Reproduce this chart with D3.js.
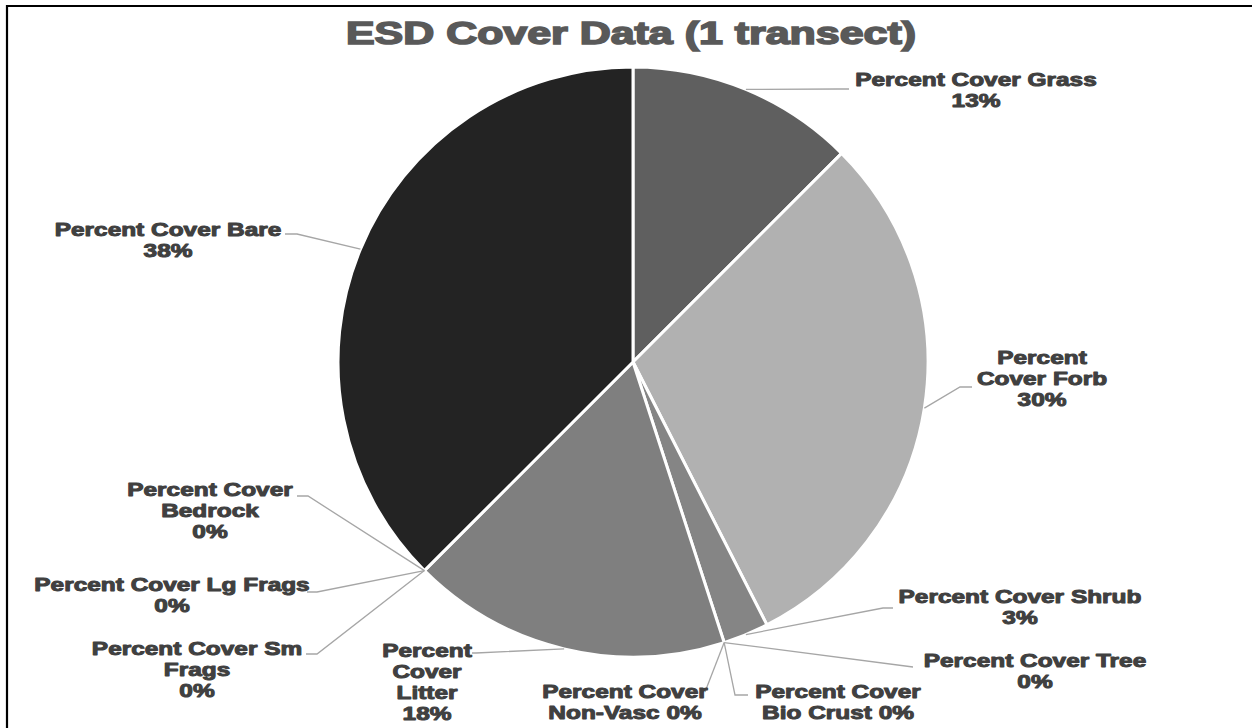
<!DOCTYPE html>
<html>
<head>
<meta charset="utf-8">
<script src="https://cdn.jsdelivr.net/npm/d3@7"></script>
<style>
  html, body { margin: 0; padding: 0; background: #fff; }
  svg { display: block; }
</style>
</head>
<body>
<svg id="chart" width="1252" height="728"></svg>
<script>
// ---- data ----
const categories = [
  "Percent Cover Grass", "Percent Cover Forb", "Percent Cover Shrub",
  "Percent Cover Tree", "Percent Cover Bio Crust", "Percent Cover Non-Vasc",
  "Percent Cover Litter", "Percent Cover Sm Frags", "Percent Cover Lg Frags",
  "Percent Cover Bedrock", "Percent Cover Bare"
];
const values = [12.5, 30, 2.5, 0, 0, 0, 17.5, 0, 0, 0, 37.5];
const percentLabels = ["13%", "30%", "3%", "0%", "0%", "0%", "18%", "0%", "0%", "0%", "38%"];
const titleText = "ESD Cover Data (1 transect)";

// ---- styling / layout (not data) ----
const sliceColors = ["#5f5f5f", "#b1b1b1", "#858585", "#9a9a9a", "#6a6a6a", "#4a4a4a",
                     "#7f7f7f", "#8f8f8f", "#a0a0a0", "#505050", "#232323"];
// label text lines (wrapping as in the reference)
const labelLines = [
  ["Percent Cover Grass", "13%"],
  ["Percent", "Cover Forb", "30%"],
  ["Percent Cover Shrub", "3%"],
  ["Percent Cover Tree", "0%"],
  ["Percent Cover", "Bio Crust 0%"],
  ["Percent Cover", "Non-Vasc 0%"],
  ["Percent", "Cover", "Litter", "18%"],
  ["Percent Cover Sm", "Frags", "0%"],
  ["Percent Cover Lg Frags", "0%"],
  ["Percent Cover", "Bedrock", "0%"],
  ["Percent Cover Bare", "38%"]
];
// label placement: text centre x, first baseline y, leader elbow + end points
const labelLayout = [
  {cx: 976, by: 86,  pts: [[838, 89], [849, 89]]},
  {cx: 1042, by: 364, pts: [[960, 387], [972, 387]]},
  {cx: 1020, by: 603, pts: [[883, 608], [893, 608]]},
  {cx: 1035, by: 667, pts: [[913, 667]]},
  {cx: 838, by: 698, pts: [[735, 695], [748, 695]]},
  {cx: 625, by: 698, pts: [[705, 692]]},
  {cx: 427, by: 657, pts: [[476, 653], [472, 653]]},
  {cx: 197, by: 655, pts: [[317, 654], [306, 654]]},
  {cx: 172, by: 591, pts: [[317, 592], [307, 592]]},
  {cx: 210, by: 496, pts: [[308, 496], [297, 496]]},
  {cx: 168, by: 236, pts: [[297, 234], [285, 234]]}
];

const svg = d3.select("#chart");
const W = 1252, H = 728;
const cx = 633, cy = 362, R = 295;

svg.append("rect").attr("width", W).attr("height", H).attr("fill", "#fff");

// frame (top and left edges visible)
svg.append("path")
  .attr("d", `M7,${H} L7,6 L${W},6`)
  .attr("fill", "none").attr("stroke", "#000").attr("stroke-width", 2.2);

// title
svg.append("text")
  .attr("x", 631).attr("y", 44)
  .attr("text-anchor", "middle")
  .attr("font-family", "'Liberation Sans', Arial, sans-serif")
  .attr("font-weight", "bold")
  .attr("font-size", 31)
  .attr("fill", "#595959")
  .attr("stroke", "#595959").attr("stroke-width", 1.6)
  .attr("textLength", 570).attr("lengthAdjust", "spacingAndGlyphs")
  .text(titleText);

// pie
const pie = d3.pie().sort(null).value(d => d).startAngle(0).endAngle(2 * Math.PI);
const arcs = pie(values);
const arcGen = d3.arc().innerRadius(0).outerRadius(R);
const color = d3.scaleOrdinal().domain(categories).range(sliceColors);

const g = svg.append("g").attr("transform", `translate(${cx},${cy})`);
g.selectAll("path.slice")
  .data(arcs)
  .join("path")
  .attr("class", "slice")
  .attr("d", arcGen)
  .attr("fill", (d, i) => color(categories[i]))
  .attr("stroke", "#fff")
  .attr("stroke-width", d => d.value > 0 ? 3 : 0)
  .attr("stroke-linejoin", "round");

// leader lines
const line = d3.line();
arcs.forEach((a, i) => {
  const mid = (a.startAngle + a.endAngle) / 2;
  const sx = cx + R * Math.sin(mid), sy = cy - R * Math.cos(mid);
  const pts = [[sx, sy]].concat(labelLayout[i].pts);
  svg.append("path")
    .attr("d", line(pts))
    .attr("fill", "none")
    .attr("stroke", "#a6a6a6")
    .attr("stroke-width", 1.3);
});

// labels
const lineH = 21;
arcs.forEach((a, i) => {
  const L = labelLayout[i];
  labelLines[i].forEach((t, k) => {
    svg.append("text")
      .attr("transform", `translate(${L.cx},${L.by + k * lineH}) scale(1.32,1)`)
      .attr("text-anchor", "middle")
      .attr("font-family", "'Liberation Sans', Arial, sans-serif")
      .attr("font-weight", "bold")
      .attr("font-size", 18.5)
      .attr("fill", "#404040")
      .attr("stroke", "#404040").attr("stroke-width", 1.0)
      .attr("stroke-linejoin", "round")
      .text(t);
  });
});
</script>
</body>
</html>
